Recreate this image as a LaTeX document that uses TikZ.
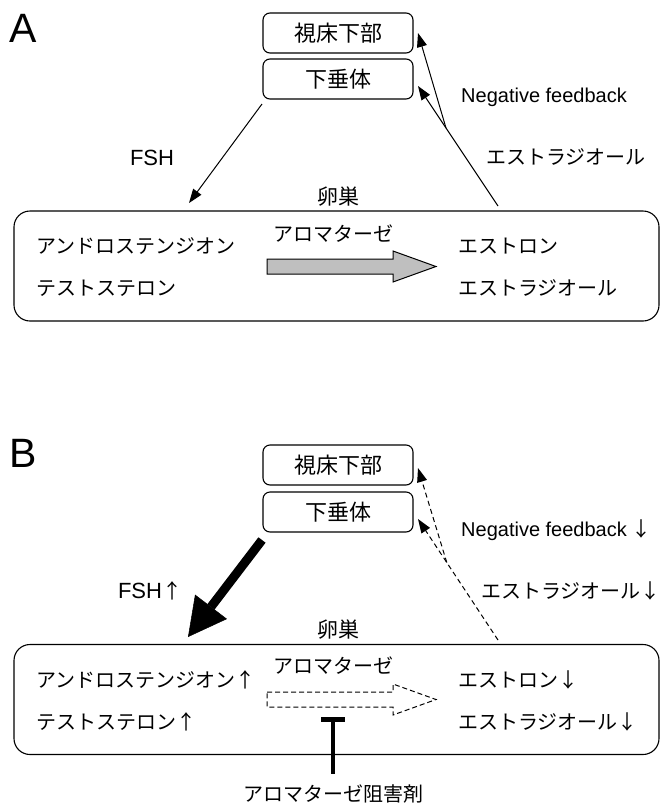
\documentclass[tikz,border=0pt]{standalone}
\usepackage{fontspec}
\setmainfont{Noto Sans CJK JP}
\newfontfamily\lat{Liberation Sans}
\usetikzlibrary{arrows.meta,calc}
\begin{document}
\begin{tikzpicture}[x=1pt,y=-1pt,
  every node/.style={inner sep=0pt, font=\fontsize{20}{24}\selectfont},
  organ/.style={draw, line width=1.1pt, rounded corners=7pt, minimum width=150pt, minimum height=40pt, font=\fontsize{22}{26}\selectfont},
  ovary/.style={draw, line width=1.1pt, rounded corners=16pt, minimum width=645pt, minimum height=110pt},
  txt/.style={anchor=west},
  kanji/.style={font=\fontsize{21}{24}\selectfont},
  panel/.style={font=\lat\fontsize{41}{44}\selectfont},
  latin/.style={anchor=west, font=\lat\fontsize{20}{24}\selectfont},
  arr/.style={line width=1pt, -{Triangle[length=14pt,width=10pt]}},
  darr/.style={arr, dash pattern=on 5pt off 3.5pt},
  bigarr/.style={line width=9pt, -{Triangle[length=38pt,width=40pt,line width=0.5pt]}},
  conv/.style={line width=1pt, line join=miter},
  inh/.style={line width=4.5pt, -{Bar[width=24pt]}},
]
\useasboundingbox (0,0) rectangle (660,804);

% ---------------- Panel A ----------------
\node[panel] (labA) at (23,28) {A};
\node[organ] (hypoA) at (338,33) {視床下部};
\node[organ] (pitA) at (338,79) {下垂体};
\node[ovary] (ovA) at (336.5,266) {};
\node[kanji] (ovlabA) at (338,197) {卵巣};
\node[txt] (andA) at (36,246) {アンドロステンジオン};
\node[txt] (tesA) at (36,288) {テストステロン};
\node[txt] (estrA) at (458,246) {エストロン};
\node[txt] (e2A) at (458,288) {エストラジオール};
\node (aroA) at (333,234) {アロマターゼ};
\coordinate (gA) at (267,266.5);
\draw[conv, fill=gray!50] ($(gA)+(0,-7.5)$) -- ++(126,0) -- ++(0,-8) -- ++(43,15.5) -- ++(-43,15.5) -- ++(0,-8) -- ++(-126,0) -- cycle;

\coordinate (fshsA) at (262,104);
\coordinate (fshtA) at (189,203);
\draw[arr] (fshsA) -- (fshtA);
\node (fshA) at (152,158) {{\lat\fontsize{22}{24}\selectfont FSH}};

\coordinate (fbsA) at (498,206);
\coordinate (fbpA) at (418,86);
\coordinate (fbhA) at (418,33);
\coordinate (fbjA) at ($(fbsA)!0.65!(fbpA)$);
\draw[arr] (fbsA) -- (fbpA);
\draw[arr] (fbjA) -- (fbhA);
\node[latin] (nfA) at (461,97) {Negative feedback};
\node[txt] (e2fA) at (486,157) {エストラジオール};

% ---------------- Panel B ----------------
\node[panel] (labB) at (23,453) {B};
\node[organ] (hypoB) at (338,465) {視床下部};
\node[organ] (pitB) at (338,512) {下垂体};
\node[ovary] (ovB) at (336.5,699.5) {};
\node[kanji] (ovlabB) at (338,630) {卵巣};
\node[txt] (andB) at (36,680) {アンドロステンジオン↑};
\node[txt] (tesB) at (36,722) {テストステロン↑};
\node[txt] (estrB) at (458,680) {エストロン↓};
\node[txt] (e2B) at (458,722) {エストラジオール↓};
\node (aroB) at (333,666) {アロマターゼ};
\coordinate (gB) at (267,699.5);
\draw[conv, dash pattern=on 5pt off 3pt] ($(gB)+(0,-7.5)$) -- ++(126,0) -- ++(0,-8) -- ++(43,15.5) -- ++(-43,15.5) -- ++(0,-8) -- ++(-126,0) -- cycle;

\coordinate (fshsB) at (262,540);
\coordinate (fshtB) at (188,637);
\draw[bigarr] (fshsB) -- (fshtB);
\node (fshB) at (150,591) {{\lat\fontsize{22}{24}\selectfont FSH}↑};

\coordinate (fbsB) at (498,640);
\coordinate (fbpB) at (418,519);
\coordinate (fbhB) at (418,468);
\coordinate (fbjB) at ($(fbsB)!0.64!(fbpB)$);
\draw[darr] (fbsB) -- (fbpB);
\draw[darr] (fbjB) -- (fbhB);
\node[txt] (nfB) at (461,530) {{\lat Negative feedback} ↓};
\node[txt] (e2fB) at (481,591) {エストラジオール↓};

\node (inhB) at (333,794) {アロマターゼ阻害剤};
\coordinate (tB) at (333,717);
\draw[inh, shorten <=11pt] (inhB) -- (tB);
\end{tikzpicture}
\end{document}
